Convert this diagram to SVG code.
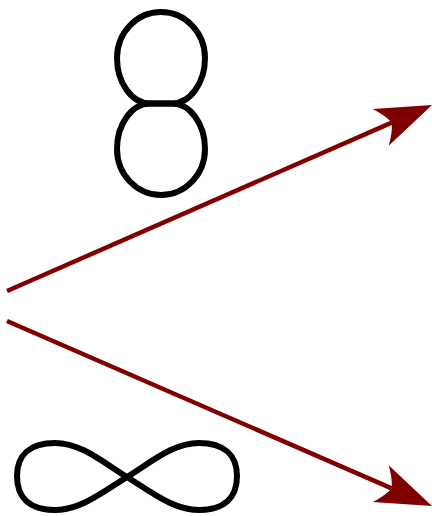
<svg xmlns="http://www.w3.org/2000/svg" width="432" height="516" viewBox="0 0 432 516">
  <style>
    .shape { fill: none; stroke: #000000; stroke-width: 6; stroke-linejoin: round; }
    .conn { fill: none; stroke: #800000; stroke-width: 4.5; stroke-linecap: butt; }
  </style>
  <defs>
    <marker id="stealth" markerUnits="userSpaceOnUse" viewBox="-60 -25 65 50" markerWidth="65" markerHeight="50" refX="-44" refY="0" orient="auto">
      <path d="M 0 0 L -56 -20 Q -47 -9 -44 0 Q -47 9 -56 20 Z" fill="#800000"/>
    </marker>
  </defs>
  <rect width="432" height="516" fill="#ffffff"/>
  <g id="eight">
    <path class="shape" d="M 150 103.5 L 172 103.5 C 190 103.5 205 83 205 58 C 205 32.6 185.3 12 161 12 C 136.7 12 117 32.6 117 58 C 117 83 132 103.5 150 103.5 Z"/>
    <path class="shape" d="M 150 103.5 L 172 103.5 C 190 103.5 205 124 205 149 C 205 174.4 185.3 195 161 195 C 136.7 195 117 174.4 117 149 C 117 124 132 103.5 150 103.5 Z"/>
  </g>
  <g id="infinity">
    <path class="shape" d="M 127 477 C 100 460 80 443 55 443 C 30 443 17 455 17 476 C 17 498 30 510 55 510 C 80 510 100 494 127 477 C 154 460 174 443 199 443 C 224 443 237 455 237 476 C 237 498 224 510 199 510 C 174 510 154 494 127 477 Z"/>
  </g>
  <g id="connectors">
    <line class="conn" x1="7" y1="291" x2="391.7" y2="122.6" marker-end="url(#stealth)"/>
    <line class="conn" x1="7" y1="321" x2="391.7" y2="488.4" marker-end="url(#stealth)"/>
  </g>
</svg>
